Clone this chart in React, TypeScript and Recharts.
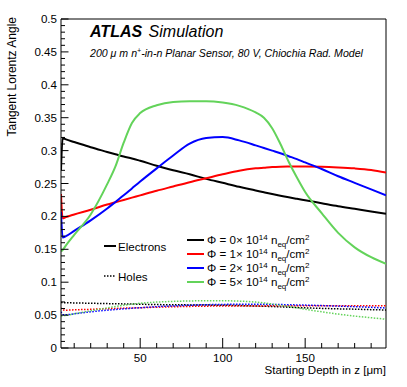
import React from "react";
import { LineChart, Line, XAxis, YAxis, ReferenceLine } from "recharts";

// starting depth in z [um]
const DEPTH = [2, 3, 5, 10, 20, 30, 35, 40, 45, 50, 60, 70, 80, 90, 100, 110, 120, 125, 130, 135, 140, 145, 150, 160, 170, 180, 190, 199];

// electrons, tangent Lorentz angle per fluence (x 1e14 neq/cm2)
const ELEC_0 = [0.270, 0.319, 0.317, 0.313, 0.305, 0.298, 0.2945, 0.291, 0.288, 0.2845, 0.277, 0.270, 0.264, 0.257, 0.251, 0.245, 0.2395, 0.2367, 0.234, 0.2315, 0.229, 0.2267, 0.2245, 0.220, 0.2155, 0.2115, 0.2075, 0.204];
const ELEC_1 = [0.234, 0.197, 0.199, 0.203, 0.210, 0.218, 0.2215, 0.225, 0.2285, 0.232, 0.239, 0.2455, 0.252, 0.258, 0.264, 0.2695, 0.273, 0.274, 0.275, 0.2755, 0.2757, 0.2758, 0.2758, 0.2755, 0.2745, 0.273, 0.2705, 0.2665];
const ELEC_2 = [0.207, 0.168, 0.170, 0.178, 0.194, 0.212, 0.222, 0.232, 0.2425, 0.253, 0.273, 0.2925, 0.3105, 0.319, 0.3205, 0.3155, 0.308, 0.304, 0.300, 0.296, 0.2915, 0.287, 0.282, 0.272, 0.261, 0.251, 0.241, 0.232];
const ELEC_5 = [0.147, 0.149, 0.156, 0.172, 0.203, 0.249, 0.276, 0.312, 0.342, 0.357, 0.369, 0.374, 0.375, 0.375, 0.373, 0.368, 0.358, 0.350, 0.334, 0.310, 0.283, 0.259, 0.237, 0.205, 0.175, 0.153, 0.138, 0.128];

// holes
const HOLE_0 = [0.069, 0.069, 0.0688, 0.0685, 0.068, 0.0675, 0.0672, 0.067, 0.0668, 0.0665, 0.066, 0.0657, 0.0655, 0.0652, 0.065, 0.0645, 0.0638, 0.0634, 0.063, 0.0625, 0.062, 0.0615, 0.061, 0.0602, 0.0595, 0.059, 0.0583, 0.0578];
const HOLE_1 = [0.061, 0.058, 0.0575, 0.058, 0.0588, 0.0597, 0.0601, 0.0605, 0.0609, 0.0612, 0.062, 0.0627, 0.0632, 0.0636, 0.0638, 0.064, 0.064, 0.064, 0.0641, 0.0641, 0.0642, 0.0642, 0.0643, 0.0644, 0.0644, 0.0644, 0.0643, 0.0642];
const HOLE_2 = [0.055, 0.051, 0.0505, 0.052, 0.055, 0.0575, 0.0585, 0.0595, 0.0604, 0.0612, 0.0628, 0.064, 0.065, 0.0658, 0.0662, 0.0665, 0.0665, 0.0664, 0.0662, 0.066, 0.0658, 0.0655, 0.0652, 0.0645, 0.0637, 0.0628, 0.0618, 0.0608];
const HOLE_5 = [0.0486, 0.049, 0.0495, 0.052, 0.0565, 0.061, 0.063, 0.065, 0.0666, 0.068, 0.0698, 0.0708, 0.0715, 0.0718, 0.0718, 0.0712, 0.0698, 0.0685, 0.0668, 0.065, 0.063, 0.061, 0.0588, 0.055, 0.0515, 0.0485, 0.046, 0.0437];

const FLUENCES = ["0", "1", "2", "5"];
const X_MAJOR = [50, 100, 150];
const X_MINOR = [10, 20, 30, 40, 60, 70, 80, 90, 110, 120, 130, 140, 160, 170, 180, 190];
const Y_MAJOR = [0, 0.05, 0.1, 0.15, 0.2, 0.25, 0.3, 0.35, 0.4, 0.45, 0.5];
const Y_LABELS = ["0", "0.05", "0.1", "0.15", "0.2", "0.25", "0.3", "0.35", "0.4", "0.45", "0.5"];

const COLORS = ["#000000", "#ff0000", "#0000ff", "#63d35a"];
const FONT = "'Liberation Sans', Arial, Helvetica, sans-serif";

const W = 407, H = 387;
const M = { top: 19, right: 21, left: 0, bottom: 0 };
const Y_AXIS_W = 61, X_AXIS_H = 39;
const PLOT_LEFT = Y_AXIS_W;
const PLOT_BOTTOM = H - X_AXIS_H;

const rows = DEPTH.map((z, i) => ({
  z,
  e0: ELEC_0[i], e1: ELEC_1[i], e2: ELEC_2[i], e5: ELEC_5[i],
  h0: HOLE_0[i], h1: HOLE_1[i], h2: HOLE_2[i], h5: HOLE_5[i],
}));

// minor y ticks every 0.01
const yMinor: number[] = [];
for (let i = 0; i < Y_MAJOR.length - 1; i++) {
  const step = (Y_MAJOR[i + 1] - Y_MAJOR[i]) / 5;
  for (let k = 1; k < 5; k++) yMinor.push(+(Y_MAJOR[i] + k * step).toFixed(4));
}
const yTicks = [...Y_MAJOR, ...yMinor].sort((a, b) => a - b);
const xTicks = [...X_MAJOR, ...X_MINOR].sort((a, b) => a - b);

const XTick = ({ x, payload }: any) => {
  const major = X_MAJOR.includes(payload.value);
  return (
    <g>
      <line x1={x} x2={x} y1={PLOT_BOTTOM} y2={PLOT_BOTTOM - (major ? 10 : 5)} stroke="#000" />
      {major && (
        <text x={x} y={PLOT_BOTTOM + 13.5} textAnchor="middle" fontSize={11.6} fontFamily={FONT} fill="#000">
          {payload.value}
        </text>
      )}
    </g>
  );
};

const YTick = ({ y, payload }: any) => {
  const idx = Y_MAJOR.findIndex(v => Math.abs(v - payload.value) < 1e-6);
  const major = idx >= 0;
  return (
    <g>
      <line x1={PLOT_LEFT} x2={PLOT_LEFT + (major ? 7.5 : 4)} y1={y} y2={y} stroke="#000" />
      {major && (
        <text x={PLOT_LEFT - 4} y={y + 4} textAnchor="end" fontSize={11.6} fontFamily={FONT} fill="#000">
          {Y_LABELS[idx]}
        </text>
      )}
    </g>
  );
};

const PhiLabel = ({ x, y, f }: { x: number; y: number; f: string }) => (
  <text x={x} y={y} fontSize={11.6} fontFamily={FONT} fill="#000">
    {`Φ = ${f}× 10`}
    <tspan dy={-4.5} fontSize={8}>14</tspan>
    <tspan dy={4.5}> n</tspan>
    <tspan dy={2.5} fontSize={8}>eq</tspan>
    <tspan dy={-2.5}>/cm</tspan>
    <tspan dy={-4.5} fontSize={8}>2</tspan>
  </text>
);

const LEGEND_Y = [240, 254, 268, 282];

export default function App() {
  return (
    <div style={{ position: "absolute", left: 0, top: 0, width: W, height: H, background: "#fff" }}>
      <LineChart width={W} height={H} data={rows} margin={M}>
        <XAxis
          dataKey="z"
          type="number"
          domain={[2, 199]}
          ticks={xTicks}
          interval={0}
          height={X_AXIS_H}
          tickLine={false}
          tick={<XTick />}
          axisLine={{ stroke: "#000" }}
          allowDataOverflow
        />
        <YAxis
          type="number"
          domain={[0, 0.5]}
          ticks={yTicks}
          interval={0}
          width={Y_AXIS_W}
          tickLine={false}
          tick={<YTick />}
          axisLine={{ stroke: "#000" }}
          allowDataOverflow
        />
        <ReferenceLine x={199} stroke="#000" />
        <ReferenceLine y={0.5} stroke="#000" />

        <Line dataKey="h0" type="monotone" stroke={COLORS[0]} strokeWidth={1.5} strokeDasharray="1.5 1.5" dot={false} isAnimationActive={false} />
        <Line dataKey="h1" type="monotone" stroke={COLORS[1]} strokeWidth={1.5} strokeDasharray="1.5 1.5" dot={false} isAnimationActive={false} />
        <Line dataKey="h2" type="monotone" stroke={COLORS[2]} strokeWidth={1.5} strokeDasharray="1.5 1.5" dot={false} isAnimationActive={false} />
        <Line dataKey="h5" type="monotone" stroke={COLORS[3]} strokeWidth={1.5} strokeDasharray="1.5 1.5" dot={false} isAnimationActive={false} />

        <Line dataKey="e0" type="monotone" stroke={COLORS[0]} strokeWidth={2} dot={false} isAnimationActive={false} />
        <Line dataKey="e1" type="monotone" stroke={COLORS[1]} strokeWidth={2} dot={false} isAnimationActive={false} />
        <Line dataKey="e2" type="monotone" stroke={COLORS[2]} strokeWidth={2} dot={false} isAnimationActive={false} />
        <Line dataKey="e5" type="monotone" stroke={COLORS[3]} strokeWidth={2} dot={false} isAnimationActive={false} />
      </LineChart>

      <svg width={W} height={H} style={{ position: "absolute", left: 0, top: 0, pointerEvents: "none" }}>
        {/* ATLAS label */}
        <text x={90} y={37} fontSize={16} fontFamily={FONT} fontStyle="italic" fill="#000">
          <tspan fontWeight="bold">ATLAS</tspan>
          <tspan dx={2}> Simulation</tspan>
        </text>
        <text x={90} y={57} fontSize={10.6} fontFamily={FONT} fontStyle="italic" fill="#000">
          {"200 μ m n"}
          <tspan dy={-4} fontSize={7}>+</tspan>
          <tspan dy={4}>-in-n Planar Sensor, 80 V, Chiochia Rad. Model</tspan>
        </text>

        {/* axis titles */}
        <text x={386} y={374} textAnchor="end" fontSize={11.6} fontFamily={FONT} fill="#000">
          Starting Depth in z [μm]
        </text>
        <text transform="translate(15.5,17) rotate(-90)" textAnchor="end" fontSize={12} fontFamily={FONT} fill="#000">
          Tangent Lorentz Angle
        </text>

        {/* line style legend */}
        <line x1={104} x2={116} y1={246} y2={246} stroke="#000" strokeWidth={2} />
        <text x={118} y={251} fontSize={11.6} fontFamily={FONT} fill="#000">Electrons</text>
        <line x1={104} x2={116} y1={276} y2={276} stroke="#000" strokeWidth={1.5} strokeDasharray="1.5 1.5" />
        <text x={118} y={281} fontSize={11.6} fontFamily={FONT} fill="#000">Holes</text>

        {/* fluence legend */}
        {FLUENCES.map((f, i) => (
          <g key={f}>
            <line x1={187} x2={204} y1={LEGEND_Y[i]} y2={LEGEND_Y[i]} stroke={COLORS[i]} strokeWidth={2} />
            <PhiLabel x={207} y={LEGEND_Y[i] + 4} f={f} />
          </g>
        ))}
      </svg>
    </div>
  );
}
